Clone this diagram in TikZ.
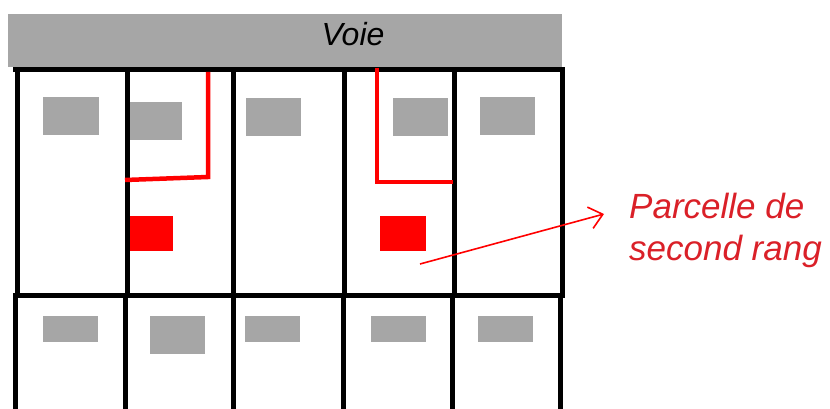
\documentclass[tikz,border=0pt]{standalone}
\usepackage{fontspec}
\setmainfont{Liberation Sans}
\usetikzlibrary{arrows.meta}
\definecolor{roadgrey}{RGB}{166,166,166}
\definecolor{labelred}{RGB}{218,32,40}
\tikzset{
  road/.style={fill=roadgrey, draw=none},
  house/.style={fill=roadgrey, draw=none},
  plotline/.style={line width=5pt, black},
  access/.style={line width=4.5pt, red, line join=miter},
  annex/.style={fill=red, draw=none},
  pointer/.style={line width=1.6pt, red, -{Straight Barb[length=13pt,width=22pt,line width=1.6pt]}},
  label/.style={text=labelred, font=\fontsize{35}{42}\selectfont\itshape, align=left, inner sep=0pt, anchor=base west}
}
\begin{document}
\begin{tikzpicture}[x=1pt,y=-1pt]
  \useasboundingbox (0,0) rectangle (830,409);

  % street band
  \fill[road] (8,14) rectangle (562,67);
  \node[font=\fontsize{32}{36}\selectfont\itshape, anchor=base] (voie) at (353,46) {Voie};

  % buildings, front row
  \fill[house] (43,97)  rectangle (99,135);
  \fill[house] (127,102) rectangle (182,140);
  \fill[house] (246,98) rectangle (301,136);
  \fill[house] (393,98) rectangle (448,136);
  \fill[house] (480,97) rectangle (535,135);

  % buildings, back row
  \fill[house] (43,316) rectangle (98,342);
  \fill[house] (150,316) rectangle (205,354);
  \fill[house] (245,316) rectangle (300,342);
  \fill[house] (371,316) rectangle (426,342);
  \fill[house] (478,316) rectangle (533,342);

  % rear-lot buildings
  \fill[annex] (127,216) rectangle (173,251);
  \fill[annex] (380,216) rectangle (426,251);

  % plot boundaries, front row
  \draw[plotline] (13,70) -- (565,70);
  \foreach \x in {17,127,233,344,454,562}
    \draw[plotline] (\x,68) -- (\x,297);
  % plot boundaries, back row
  \draw[plotline] (13,295) -- (565,295);
  \foreach \x in {15,125,233,343,452,560}
    \draw[plotline] (\x,293) -- (\x,412);

  % access strips to the rear lots
  \draw[access] (208,72) -- (208,177) -- (125,180);
  \draw[access] (377,68) -- (377,182) -- (453,182);

  % annotation
  \node[label] (lbl) at (629,260) {Parcelle de\\second rang};
  \coordinate (from) at (420,264);
  \coordinate (tip) at (604,214);
  \draw[pointer] (from) -- (tip);
\end{tikzpicture}
\end{document}
